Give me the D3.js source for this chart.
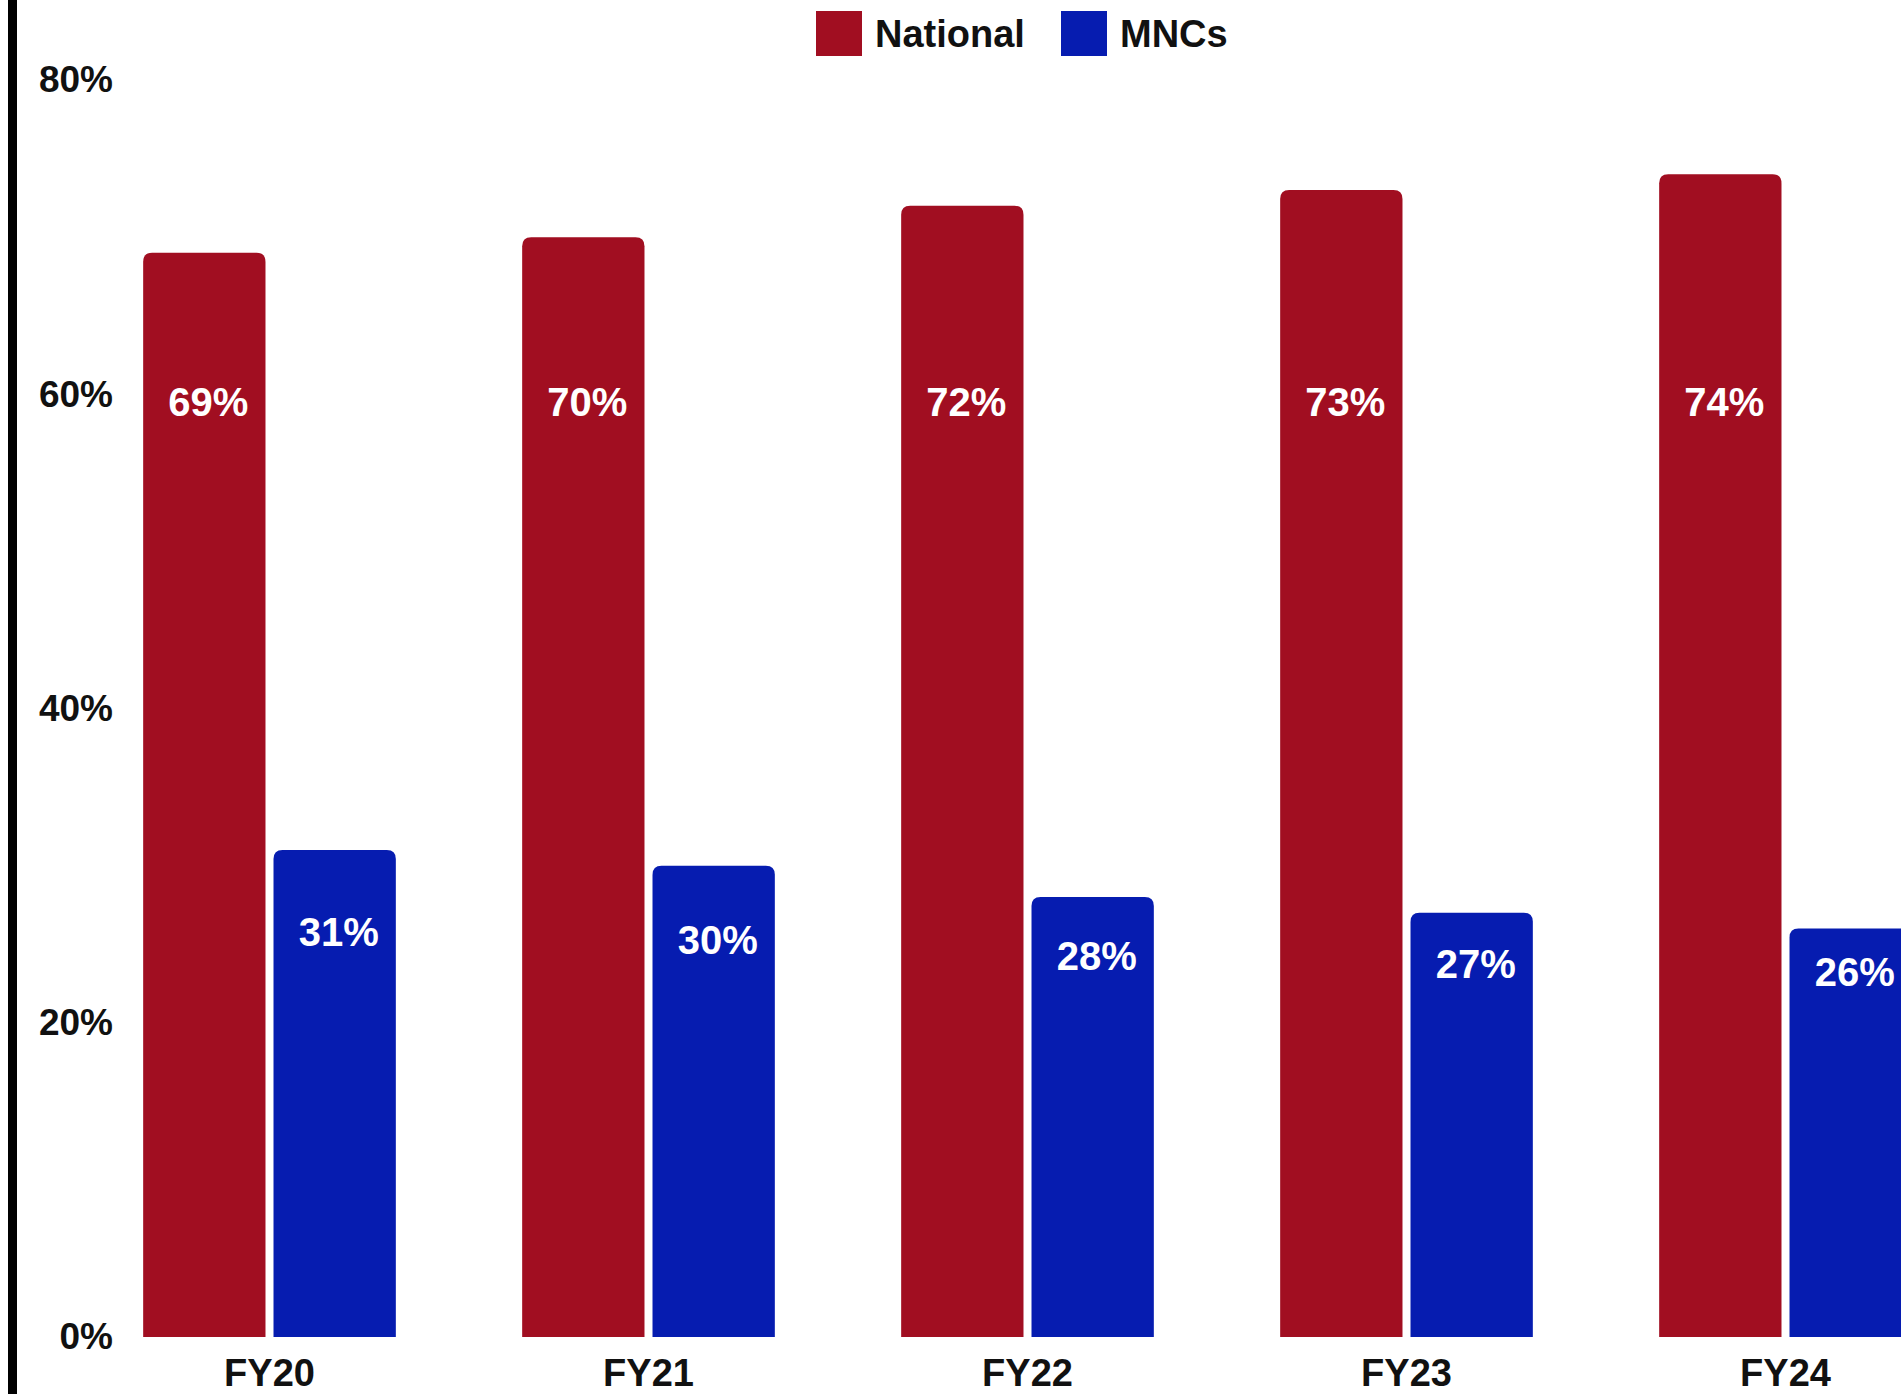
<html>
<head>
<script src="https://d3js.org/d3.v7.min.js"></script>
<style>
body { margin: 0; background: #fff; }
svg { display: block; font-family: "Liberation Sans", Arial, Helvetica, sans-serif; }
</style>
</head>
<body>
<div id="chart"></div>
<script>

var width = 1901;
var height = 1394;

// data
var years = ["FY20", "FY21", "FY22", "FY23", "FY24"];
var series = ["National", "MNCs"];
var national = [69, 70, 72, 73, 74];
var mncs = [31, 30, 28, 27, 26];
var yTicks = [0, 20, 40, 60, 80];

var colors = { "National": "#a10e21", "MNCs": "#061cb0" };

var svg = d3.select("#chart").append("svg")
	.attr("width", width).attr("height", height);

svg.append("rect").attr("width", width).attr("height", height).style("fill", "#fff");

// black edge on the left
svg.append("rect").attr("x", 8).attr("y", 0).attr("width", 9).attr("height", height).style("fill", "#000");

var baseY = 1337;
var topY = 80;

var yScale = d3.scaleLinear().domain([0, 80]).range([baseY, topY]);

var x0 = d3.scaleBand().domain(years).range([80, 1975])
	.paddingInner(1 / 3).paddingOuter(1 / 6);
var x1 = d3.scaleBand().domain(series).range([0, x0.bandwidth()])
	.paddingInner(8 / 130).paddingOuter(0);

var rows = years.map(function (y, i) {
	return { year: y, values: [
		{ key: "National", value: national[i] },
		{ key: "MNCs", value: mncs[i] }
	] };
});

// bar with rounded top corners
function barPath(x, y, w, h, r) {
	return "M" + x + "," + (y + h) +
		"V" + (y + r) +
		"Q" + x + "," + y + " " + (x + r) + "," + y +
		"H" + (x + w - r) +
		"Q" + (x + w) + "," + y + " " + (x + w) + "," + (y + r) +
		"V" + (y + h) + "Z";
}

var groups = svg.selectAll(".group").data(rows)
	.enter().append("g")
	.attr("class", "group")
	.attr("transform", function (d) { return "translate(" + x0(d.year) + ",0)"; });

groups.selectAll("path").data(function (d) { return d.values; })
	.enter().append("path")
	.attr("d", function (d) {
		return barPath(x1(d.key), yScale(d.value), x1.bandwidth(), baseY - yScale(d.value), 9);
	})
	.style("fill", function (d) { return colors[d.key]; });

// value labels: national ones sit on one line, MNC ones part way down the bar
groups.selectAll(".val").data(function (d) { return d.values; })
	.enter().append("text")
	.attr("class", "val")
	.attr("x", function (d) { return x1(d.key) + x1.bandwidth() / 2 + 4; })
	.attr("y", function (d) {
		return d.key === "National" ? yScale(59.5) : yScale((d.value + 20.5) / 2);
	})
	.attr("dy", "0.35em")
	.attr("text-anchor", "middle")
	.style("fill", "#fff")
	.style("font-weight", "bold")
	.style("font-size", "40px")
	.text(function (d) { return d.value + "%"; });

// y axis
var yAxis = d3.axisLeft(yScale).tickValues(yTicks).tickSize(0).tickPadding(0)
	.tickFormat(function (d) { return d + "%"; });
var gy = svg.append("g").attr("transform", "translate(113,0)").call(yAxis);
gy.select(".domain").remove();
gy.selectAll("text")
	.style("font-size", "37px").style("font-weight", "bold").style("fill", "#111")
	.style("font-family", "'Liberation Sans', Arial, sans-serif");

// x axis
var xAxis = d3.axisBottom(x0).tickSize(0).tickPadding(22);
var gx = svg.append("g").attr("transform", "translate(0," + baseY + ")").call(xAxis);
gx.select(".domain").remove();
gx.selectAll("text")
	.style("font-size", "38px").style("font-weight", "bold").style("fill", "#111")
	.style("font-family", "'Liberation Sans', Arial, sans-serif");

// legend
var legendX = [816, 1061];
var legend = svg.selectAll(".legend").data(series)
	.enter().append("g")
	.attr("class", "legend")
	.attr("transform", function (d, i) { return "translate(" + legendX[i] + ",11)"; });

legend.append("rect")
	.attr("width", 46).attr("height", 45)
	.style("fill", function (d) { return colors[d]; });

legend.append("text")
	.attr("x", 59).attr("y", 23).attr("dy", "0.35em")
	.style("font-size", "38px").style("font-weight", "bold").style("fill", "#111")
	.text(function (d) { return d; });

</script>
</body>
</html>
